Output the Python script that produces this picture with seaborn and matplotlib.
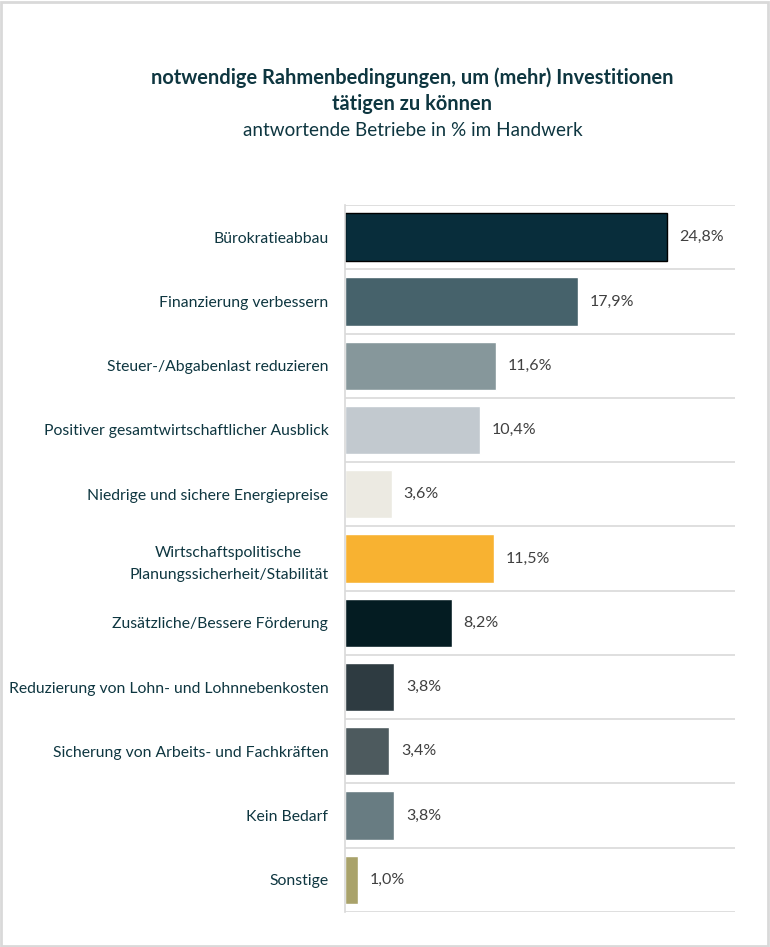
import seaborn as sns
import matplotlib.pyplot as plt
import numpy as np
import pandas as pd

kategorien = [
    "Bürokratieabbau",
    "Finanzierung verbessern",
    "Steuer-/Abgabenlast reduzieren",
    "Positiver gesamtwirtschaftlicher Ausblick",
    "Niedrige und sichere Energiepreise",
    "Wirtschaftspolitische\nPlanungssicherheit/Stabilität",
    "Zusätzliche/Bessere Förderung",
    "Reduzierung von Lohn- und Lohnnebenkosten",
    "Sicherung von Arbeits- und Fachkräften",
    "Kein Bedarf",
    "Sonstige",
]
werte = [24.8, 17.9, 11.6, 10.4, 3.6, 11.5, 8.2, 3.8, 3.4, 3.8, 1.0]
farben = ["#082D3B", "#46626B", "#86979B", "#C2C9CF", "#ECEAE2", "#F8B231",
          "#041C22", "#2E3B41", "#4D5A5E", "#687C82", "#A9A26A"]

df = pd.DataFrame({"kategorie": kategorien, "wert": werte})

sns.set_style("white")
plt.rcParams["font.family"] = ["Lato", "DejaVu Sans"]

textfarbe = "#0E3640"
grau = "#D9D9D9"

fig = plt.figure(figsize=(7.7, 9.47), dpi=100)
ax = fig.add_axes([0.448, 0.037, 0.5065, 0.7465])

sns.barplot(data=df, y="kategorie", x="wert", hue="kategorie", palette=farben,
            orient="h", width=0.75, legend=False, ax=ax, saturation=1)

# erster Balken mit schwarzem Rand
ax.patches[0].set_edgecolor("black")
ax.patches[0].set_linewidth(1)

for i, w in enumerate(werte):
    ax.text(w + 0.9, i, f"{w:.1f}%".replace(".", ","), va="center", ha="left",
            fontsize=11.5, color="#404040")

ax.set_xlim(0, 30)
ax.set_ylim(10.5, -0.5)
ax.set_xlabel("")
ax.set_ylabel("")
ax.set_xticks([])
ax.set_yticks(range(len(kategorien)))
ax.set_yticklabels(kategorien, fontsize=11.3, color=textfarbe, ha="right",
                   multialignment="center", linespacing=1.7)
ax.tick_params(axis="y", which="major", length=0, pad=12)

# Trennlinien zwischen den Kategorien
ax.set_yticks(np.arange(-0.5, 11, 1), minor=True)
ax.grid(which="minor", axis="y", color=grau, linewidth=1.2)
ax.tick_params(axis="y", which="minor", length=5, color=grau, width=1.2)

for s in ["top", "right", "bottom"]:
    ax.spines[s].set_visible(False)
ax.spines["left"].set_color(grau)
ax.spines["left"].set_linewidth(1.2)
ax.set_axisbelow(True)

# Titel
fig.text(0.5357, 0.918, "notwendige Rahmenbedingungen, um (mehr) Investitionen",
         ha="center", va="center", fontsize=14.4, fontweight="bold", color=textfarbe)
fig.text(0.5357, 0.890, "tätigen zu können", ha="center", va="center",
         fontsize=14.4, fontweight="bold", color=textfarbe)
fig.text(0.5357, 0.862, "antwortende Betriebe in % im Handwerk", ha="center",
         va="center", fontsize=13.6, color=textfarbe)

# Rahmen
fig.patches.append(plt.Rectangle((0.001, 0.001), 0.997, 0.997, transform=fig.transFigure,
                                 fill=False, edgecolor=grau, linewidth=2))

plt.savefig("out.png", dpi=100)
